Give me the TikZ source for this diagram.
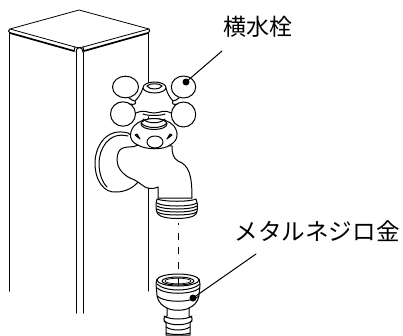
\documentclass[tikz,border=0pt]{standalone}
\usepackage{fontspec}
\newfontfamily\cjk{Noto Sans CJK JP}
\tikzset{
 ln/.style={draw=black,line width=1pt,line cap=round,line join=round},
 wf/.style={ln,fill=white},
 thick ln/.style={draw=black,line width=1.7pt,line cap=round},
 lab/.style={inner sep=0pt}
}
\begin{document}
\begin{tikzpicture}[x=1pt,y=-1pt]
\useasboundingbox[fill=white] (0,0) rectangle (403,335);
% post
\draw[ln] (9,33) -- (9,291);
\draw[ln] (76,52) -- (76,313);
\draw[ln] (83,52) -- (83,313);
\draw[ln] (148,33) -- (148,291);
\draw[wf,line width=.8pt] (10,29) -- (79,10) -- (149,29) -- (83,47) .. controls (80,48) and (78,48) .. (75,47) -- cycle;
\draw[thick ln] (10,33) -- (74,51);
\draw[thick ln] (84,51) -- (148,33);
\draw[ln] (10,29) .. controls (8,30) and (8,32) .. (10,33);
\draw[ln] (149,29) .. controls (150,30) and (150,32) .. (148,33);
\draw[ln] (75,47) -- (74,51) (83,47) -- (84,51);
\draw[ln] (76,52) .. controls (76,46) and (83,46) .. (83,52);
% dashed line
\coordinate (d1) at (178,223);
\coordinate (d2) at (178,269);
\draw[ln,line cap=butt,dash pattern=on 7pt off 7.7pt,dash phase=5pt] (d1) -- (d2);
% flange
\draw[wf] (128,133) .. controls (106,127) and (95,147) .. (95,163) .. controls (95,182) and (105,193) .. (116,192) .. controls (126,192) and (134,187) .. (138,182) -- (150,150) -- cycle;
\draw[ln] (128,136) .. controls (108,131) and (99,150) .. (99,163) .. controls (99,173) and (102,182) .. (107,187);
% spout
\draw[wf] (158,198) -- (158,187) .. controls (154,189) and (149,189) .. (145,187) .. controls (139,183) and (136,180) .. (130,178) .. controls (122,174) and (117,167) .. (117,160) .. controls (117,154) and (119,149) .. (123,148) .. controls (128,146) and (133,148) .. (138,145) -- (172,146) .. controls (172,153) and (173,158) .. (178,161) .. controls (189,165) and (192,175) .. (192,198) -- cycle;
% neck dome
\draw[wf] (134,126) .. controls (128,134) and (130,142) .. (138,145) .. controls (146,150) and (164,150) .. (170,145) .. controls (178,141) and (179,133) .. (174,126) .. controls (165,116) and (143,116) .. (134,126) -- cycle;
\draw[ln,fill=white] (155,142) ellipse [x radius=8,y radius=6];
\draw[ln,fill=black!70] (135,135) -- (140,139) -- (137,134) -- cycle;
\draw[ln,fill=black!70] (172,135) -- (167,139) -- (170,134) -- cycle;
\draw[wf] (154,124) ellipse [x radius=13,y radius=5.5];
\draw[ln] (141,123) .. controls (146,129) and (162,129) .. (167,123);
\draw[ln] (143,119) .. controls (148,124) and (160,124) .. (165,119);
% lobes
\draw[wf] (125.5,87) ellipse [x radius=13,y radius=10.8];
\draw[wf] (183.5,87) ellipse [x radius=12.2,y radius=11];
\draw[wf] (123,114) ellipse [x radius=12.5,y radius=12.2];
\draw[wf] (183.5,114.5) ellipse [x radius=12.2,y radius=12.5];
% hub
\fill[white] (141,88) -- (135,98) -- (137,113) .. controls (148,118) and (160,118) .. (170,113) -- (172,98) -- (167,88) -- cycle;
\draw[ln] (143,88) .. controls (141,94) and (138,98) .. (135,101) .. controls (134,101) and (131,100) .. (129,98);
\draw[ln] (135,101) .. controls (137,104) and (134,105) .. (130,104);
\draw[ln] (166,88) .. controls (167,93) and (170,98) .. (173,101) .. controls (174,101) and (177,100) .. (179,98);
\draw[ln] (173,101) .. controls (171,104) and (174,105) .. (177,104);
\draw[ln] (136,113) .. controls (145,109) and (147,113) .. (154,113) .. controls (161,113) and (163,109) .. (171,113);
\draw[ln] (143,114) .. controls (148,116) and (160,116) .. (165,114);
\draw[wf] (154.5,87.5) ellipse [x radius=11.5,y radius=5.5];
\draw[ln] (147,86) .. controls (149,90) and (160,90) .. (162,86);
\draw[ln] (147,86) .. controls (149,83) and (160,83) .. (162,86);
% thread
\draw[wf] (157,199) .. controls (155,204) and (156,212) .. (158,214) .. controls (162,220) and (192,220) .. (196,214) .. controls (198,210) and (198,204) .. (196,199) .. controls (190,202) and (164,202) .. (157,199) -- cycle;
\draw[ln] (157,203) .. controls (163,207) and (191,207) .. (197,203);
\draw[ln] (157,206) .. controls (163,210) and (191,210) .. (197,206);
\draw[ln] (157,209) .. controls (163,213) and (191,213) .. (197,209);
\draw[ln] (157,212) .. controls (163,216) and (191,216) .. (197,212);
% coupling
\draw[wf] (166,335) -- (166,323) .. controls (163,320) and (163,317) .. (167,316) -- (167,308) .. controls (163,306) and (158,303) .. (157,295) -- (156,284) .. controls (156,282) and (157,281) .. (157,279) -- (199,279) .. controls (200,281) and (200,282) .. (200,284) -- (199,295) .. controls (198,303) and (193,306) .. (189,308) -- (189,316) .. controls (193,317) and (193,320) .. (190,323) -- (190,335) -- cycle;
\draw[wf] (178,280) ellipse [x radius=21,y radius=6];
\draw[ln] (178,281) ellipse [x radius=16,y radius=4];
\draw[ln,line width=.7pt] (178,281) ellipse [x radius=13,y radius=2.8];
\draw[ln,line width=.7pt] (178,278) -- (178,285);
\draw[ln] (157,284) .. controls (165,292) and (191,292) .. (200,284);
\draw[ln] (157,288) .. controls (165,295) and (191,295) .. (200,288);
\draw[ln] (157,296) .. controls (165,303) and (191,303) .. (199,296);
\draw[ln] (167,308) .. controls (172,311) and (184,311) .. (189,308);
\draw[ln] (164,316) .. controls (170,320) and (186,320) .. (192,316);
\draw[ln] (164,321) .. controls (170,326) and (186,326) .. (192,321);
\draw[ln] (166,327) .. controls (172,331) and (184,331) .. (190,327);
\draw[ln] (166,333) .. controls (172,335) and (184,335) .. (190,333);
% labels and leaders
\node[lab] (top) at (258,27) {\cjk\fontsize{23}{23}\selectfont 横水栓};
\node[lab] (bot) at (317,231) {\cjk\fontsize{23.6}{24}\selectfont メタルネジロ金};
\coordinate (tl) at (222,51);
\coordinate (bl) at (256,254);
\node[circle,fill=black,inner sep=0pt,minimum size=7pt] (td) at (186,82) {};
\node[circle,fill=black,inner sep=0pt,minimum size=7pt] (bd) at (193,298) {};
\draw[ln] (td) -- (tl);
\draw[ln] (bd) -- (bl);
\end{tikzpicture}
\end{document}
